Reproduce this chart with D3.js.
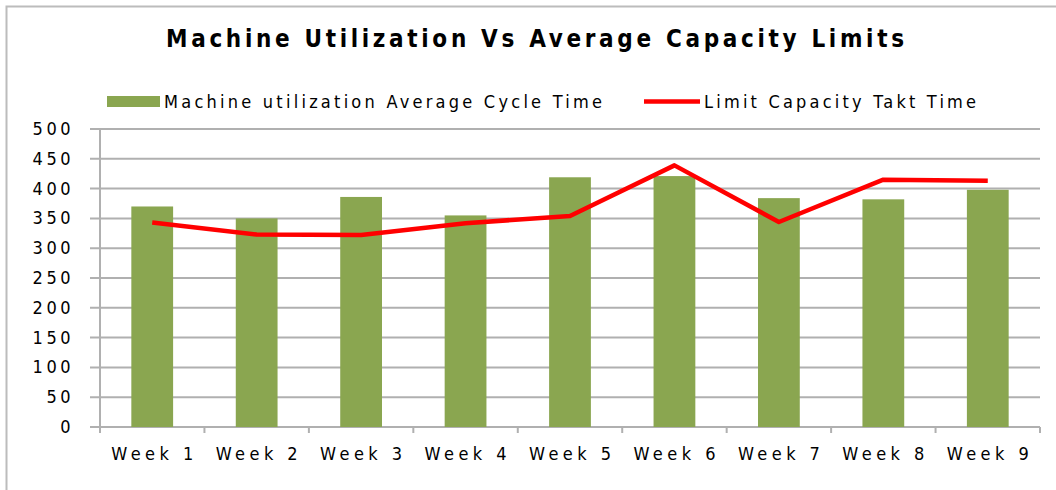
<!DOCTYPE html>
<html>
<head>
<meta charset="utf-8">
<script src="https://cdn.jsdelivr.net/npm/d3@7"></script>
<style>
  body { margin: 0; background: #fff; }
  svg { display: block; }
  text { font-family: "Liberation Sans Narrow", "DejaVu Sans Condensed", "Open Sans", sans-serif; fill: #000; }
</style>
</head>
<body>
<div id="chart"></div>
<script>
// chart data
const weeks = ["Week 1", "Week 2", "Week 3", "Week 4", "Week 5", "Week 6", "Week 7", "Week 8", "Week 9"];
const cycleTime = [370, 350, 386, 355, 419, 421, 384, 382, 398];
const taktTime = [343, 323, 322, 342, 354, 439, 344, 415, 413];
const yTicks = [0, 50, 100, 150, 200, 250, 300, 350, 400, 450, 500];

const width = 1056, height = 490;
const margin = { top: 129, right: 16, bottom: 63, left: 100 };

const svg = d3.select("#chart")
  .append("svg")
  .attr("width", width)
  .attr("height", height);

// frame edges (only top and left are visible in the crop)
svg.append("path")
  .attr("d", "M6.5,490 V6.5 H1056")
  .attr("fill", "none")
  .attr("stroke", "#bcbcbc")
  .attr("stroke-width", 2);

// title
svg.append("text")
  .attr("x", 535)
  .attr("y", 47)
  .attr("text-anchor", "middle")
  .attr("textLength", 738)
  .attr("lengthAdjust", "spacing")
  .style("font-size", "24px")
  .style("font-weight", "bold")
  .text("Machine Utilization Vs Average Capacity Limits");

const x = d3.scaleBand()
  .domain(weeks)
  .range([margin.left, width - margin.right])
  .paddingInner(0.6)
  .paddingOuter(0.3);

const y = d3.scaleLinear()
  .domain([0, 500])
  .range([height - margin.bottom, margin.top]);

// gridlines
svg.append("g")
  .selectAll("line")
  .data(yTicks)
  .enter()
  .append("line")
  .attr("x1", margin.left - 10)
  .attr("x2", width - margin.right)
  .attr("y1", d => y(d))
  .attr("y2", d => y(d))
  .attr("stroke", "#b0b0b0")
  .attr("stroke-width", 2);

// y labels
svg.append("g")
  .selectAll("text")
  .data(yTicks)
  .enter()
  .append("text")
  .attr("x", 74)
  .attr("y", d => y(d) + 6)
  .attr("text-anchor", "end")
  .style("font-size", "18px")
  .style("letter-spacing", "3.5px")
  .text(d => d);

// y axis line
svg.append("line")
  .attr("x1", margin.left).attr("x2", margin.left)
  .attr("y1", y(500)).attr("y2", y(0) + 6)
  .attr("stroke", "#b0b0b0")
  .attr("stroke-width", 2);

// x axis ticks at category boundaries
const step = x.step();
const bounds = d3.range(weeks.length + 1).map(i => margin.left + i * step);
svg.append("g")
  .selectAll("line")
  .data(bounds)
  .enter()
  .append("line")
  .attr("x1", d => d).attr("x2", d => d)
  .attr("y1", y(0)).attr("y2", y(0) + 6)
  .attr("stroke", "#b0b0b0")
  .attr("stroke-width", 2);

// bars
svg.append("g")
  .selectAll("rect")
  .data(cycleTime)
  .enter()
  .append("rect")
  .attr("x", (d, i) => x(weeks[i]))
  .attr("y", d => y(d))
  .attr("width", x.bandwidth())
  .attr("height", d => y(0) - y(d))
  .attr("fill", "#8aa650");

// x labels
svg.append("g")
  .selectAll("text")
  .data(weeks)
  .enter()
  .append("text")
  .attr("x", d => x(d) + x.bandwidth() / 2)
  .attr("y", 460)
  .attr("text-anchor", "middle")
  .attr("textLength", 82)
  .attr("lengthAdjust", "spacing")
  .style("font-size", "18px")
  .text(d => d);

// takt time line
const line = d3.line()
  .x((d, i) => x(weeks[i]) + x.bandwidth() / 2)
  .y(d => y(d));

svg.append("path")
  .datum(taktTime)
  .attr("d", line)
  .attr("fill", "none")
  .attr("stroke", "#ff0000")
  .attr("stroke-width", 4.5)
  .attr("stroke-linejoin", "round");

// legend
const legend = svg.append("g");
legend.append("rect")
  .attr("x", 107).attr("y", 96)
  .attr("width", 53).attr("height", 11)
  .attr("fill", "#8aa650");
legend.append("text")
  .attr("x", 164).attr("y", 108)
  .attr("textLength", 438)
  .attr("lengthAdjust", "spacing")
  .style("font-size", "18px")
  .text("Machine utilization Average Cycle Time");
legend.append("line")
  .attr("x1", 644).attr("x2", 700)
  .attr("y1", 101.5).attr("y2", 101.5)
  .attr("stroke", "#ff0000")
  .attr("stroke-width", 4.5);
legend.append("text")
  .attr("x", 704).attr("y", 108)
  .attr("textLength", 272)
  .attr("lengthAdjust", "spacing")
  .style("font-size", "18px")
  .text("Limit Capacity Takt Time");
</script>
</body>
</html>
